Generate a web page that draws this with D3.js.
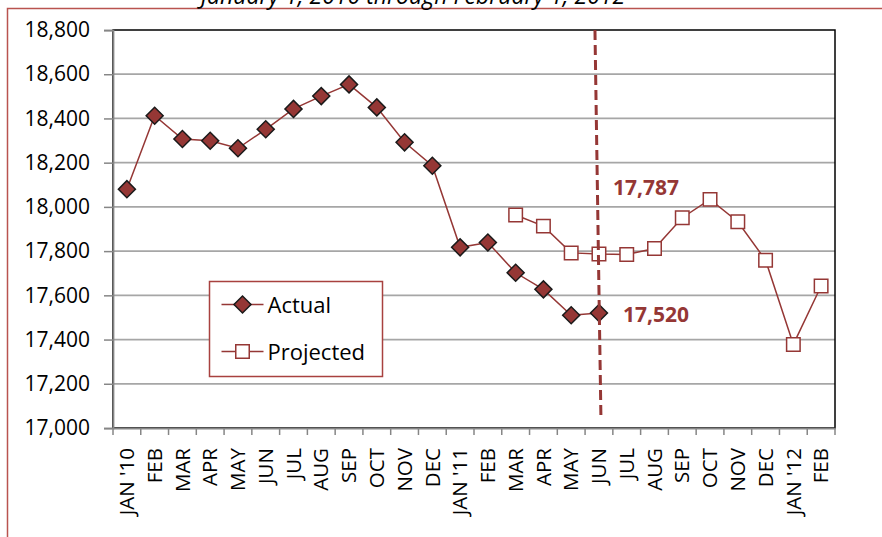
<!DOCTYPE html>
<html lang="en">
<head>
  <meta charset="UTF-8" />
  <title>Actual vs Projected</title>
  <script src="https://cdn.jsdelivr.net/npm/d3@7"></script>
  <style>
    body { margin: 0; background: #fff; }
    svg { display: block; font-family: "Open Sans", Arial, sans-serif; }
  </style>
</head>
<body>
  <div id="chart"></div>
  <script>
    // Month labels (Jan 2010 to Feb 2012)
    const months = ["JAN '10", "FEB", "MAR", "APR", "MAY", "JUN", "JUL", "AUG", "SEP", "OCT", "NOV", "DEC",
                    "JAN '11", "FEB", "MAR", "APR", "MAY", "JUN", "JUL", "AUG", "SEP", "OCT", "NOV", "DEC",
                    "JAN '12", "FEB"];
    // Actual: JAN '10 .. JUN '11
    const actual = [18080, 18412, 18307, 18299, 18265, 18351, 18443, 18501, 18554, 18450, 18292, 18186,
                    17817, 17839, 17702, 17627, 17510, 17520];
    // Projected: MAR '11 .. FEB '12
    const projectedStart = 14;
    const projected = [17963, 17913, 17792, 17787, 17785, 17812, 17951, 18034, 17933, 17759, 17378, 17642];
    const yTicks = [17000, 17200, 17400, 17600, 17800, 18000, 18200, 18400, 18600, 18800];
    const title = "January 1, 2010 through February 1, 2012";
    const splitIndex = 17; // JUN '11

    const W = 882, H = 537;
    const red = "#953735";

    const svg = d3.select("#chart").append("svg")
      .attr("width", W).attr("height", H);

    svg.append("rect").attr("width", W).attr("height", H).attr("fill", "#fff");

    // outer frame (runs off the page right and bottom)
    svg.append("rect")
      .attr("x", 7.5).attr("y", 8.5).attr("width", 900).attr("height", 600)
      .attr("fill", "none").attr("stroke", "#b9534f").attr("stroke-width", 1.5);

    // title, mostly above the visible area as in the source
    svg.append("text")
      .attr("x", 413).attr("y", 4)
      .attr("text-anchor", "middle")
      .attr("font-size", 23).attr("font-style", "italic")
      .attr("fill", "#000")
      .text(title);

    const x = d3.scaleBand().domain(d3.range(months.length)).range([113, 835]);
    const y = d3.scaleLinear().domain([17000, 18800]).range([428, 30]);
    const cx = i => x(i) + x.bandwidth() / 2;

    // gridlines
    svg.append("g").selectAll("line")
      .data(yTicks.filter(v => v > 17000 && v < 18800))
      .join("line")
        .attr("x1", x.range()[0]).attr("x2", x.range()[1])
        .attr("y1", d => y(d)).attr("y2", d => y(d))
        .attr("stroke", "#a6a6a6").attr("stroke-width", 1.75);

    // plot area border (top/right)
    svg.append("rect")
      .attr("x", x.range()[0]).attr("y", y(18800))
      .attr("width", x.range()[1] - x.range()[0]).attr("height", y(17000) - y(18800))
      .attr("fill", "none").attr("stroke", "#000").attr("stroke-width", 1.5);

    // y axis
    const yAxis = svg.append("g")
      .attr("transform", `translate(${x.range()[0]},0)`)
      .call(d3.axisLeft(y).tickValues(yTicks).tickFormat(d3.format(",")).tickSize(9).tickPadding(14));
    yAxis.select(".domain").attr("stroke", "#868686").attr("stroke-width", 1.75);
    yAxis.selectAll(".tick line").attr("stroke", "#868686").attr("stroke-width", 1.5);
    yAxis.selectAll("text").attr("font-size", 21).attr("fill", "#000")
      .attr("font-family", "'Open Sans', Arial, sans-serif");

    // x axis
    const xAxis = svg.append("g")
      .attr("transform", `translate(0,${y(17000)})`)
      .call(d3.axisBottom(x).tickSize(0).tickFormat(i => months[i]));
    xAxis.select(".domain").attr("stroke", "#868686").attr("stroke-width", 1.75);
    xAxis.selectAll("text")
      .attr("transform", "rotate(-90)")
      .attr("x", -20).attr("y", 0).attr("dy", "0.35em")
      .attr("text-anchor", "end")
      .attr("font-size", 20.5).attr("fill", "#000")
      .attr("font-family", "'Open Sans', Arial, sans-serif");
    // category boundary ticks
    xAxis.append("g").selectAll("line")
      .data(d3.range(months.length + 1))
      .join("line")
        .attr("x1", i => x.range()[0] + i * x.step())
        .attr("x2", i => x.range()[0] + i * x.step())
        .attr("y1", 0).attr("y2", 7)
        .attr("stroke", "#868686").attr("stroke-width", 1.5);

    const line = d3.line().x(d => cx(d.i)).y(d => y(d.v));
    const actualPts = actual.map((v, i) => ({ i, v }));
    const projPts = projected.map((v, k) => ({ i: projectedStart + k, v }));

    // projected series
    svg.append("path").datum(projPts)
      .attr("fill", "none").attr("stroke", red).attr("stroke-width", 1.5)
      .attr("d", line);
    svg.append("g").selectAll("path")
      .data(projPts)
      .join("path")
        .attr("transform", d => `translate(${cx(d.i)},${y(d.v)})`)
        .attr("d", d3.symbol(d3.symbolSquare, 182))
        .attr("fill", "#fff").attr("stroke", red).attr("stroke-width", 1.5);

    // actual series
    svg.append("path").datum(actualPts)
      .attr("fill", "none").attr("stroke", red).attr("stroke-width", 1.5)
      .attr("d", line);
    svg.append("g").selectAll("path")
      .data(actualPts)
      .join("path")
        .attr("transform", d => `translate(${cx(d.i)},${y(d.v)}) rotate(45)`)
        .attr("d", d3.symbol(d3.symbolSquare, 145))
        .attr("fill", red).attr("stroke", "#1a1a1a").attr("stroke-width", 1.5);

    // split marker
    svg.append("line")
      .attr("x1", cx(splitIndex) - 4).attr("y1", y(18800))
      .attr("x2", cx(splitIndex) + 2).attr("y2", y(17000) - 8)
      .attr("stroke", red).attr("stroke-width", 3)
      .attr("stroke-dasharray", "10,5");

    // callouts
    const projSplit = projected[splitIndex - projectedStart];
    const actSplit = actual[splitIndex];
    svg.append("text")
      .attr("x", cx(splitIndex) + 14).attr("y", y(projSplit) - 59)
      .attr("font-size", 21).attr("font-weight", "bold").attr("fill", red)
      .text(d3.format(",")(projSplit));
    svg.append("text")
      .attr("x", cx(splitIndex) + 24).attr("y", y(actSplit) + 9)
      .attr("font-size", 21).attr("font-weight", "bold").attr("fill", red)
      .text(d3.format(",")(actSplit));

    // legend
    const lg = svg.append("g").attr("transform", "translate(209.5,281.5)");
    lg.append("rect").attr("width", 173).attr("height", 95)
      .attr("fill", "#fff").attr("stroke", "#a8413f").attr("stroke-width", 1.5);
    const items = [
      { name: "Actual", y: 23, sym: "diamond" },
      { name: "Projected", y: 70, sym: "square" }
    ];
    items.forEach(it => {
      lg.append("line").attr("x1", 12).attr("x2", 54).attr("y1", it.y).attr("y2", it.y)
        .attr("stroke", red).attr("stroke-width", 1.5);
      const m = lg.append("path");
      if (it.sym === "diamond") {
        m.attr("transform", `translate(33,${it.y}) rotate(45)`)
          .attr("d", d3.symbol(d3.symbolSquare, 145))
          .attr("fill", red).attr("stroke", "#1a1a1a").attr("stroke-width", 1.5);
      } else {
        m.attr("transform", `translate(33,${it.y})`)
          .attr("d", d3.symbol(d3.symbolSquare, 182))
          .attr("fill", "#fff").attr("stroke", red).attr("stroke-width", 1.5);
      }
      lg.append("text").attr("x", 58).attr("y", it.y + 8)
        .attr("font-size", 22).attr("fill", "#000").text(it.name);
    });
  </script>
</body>
</html>
